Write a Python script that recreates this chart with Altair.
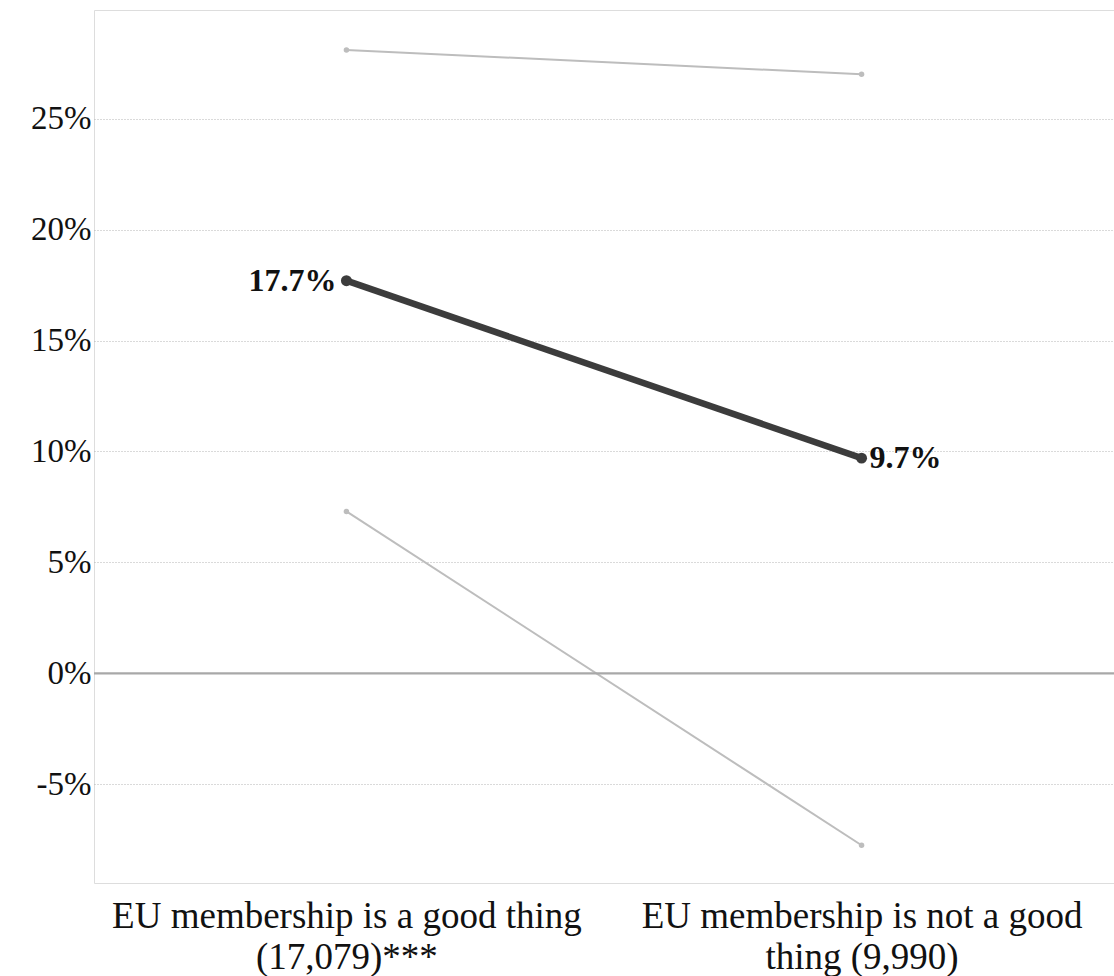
import altair as alt
import pandas as pd

# Categories on the x axis (multi-line labels)
categories = [
    "EU membership is a good thing (17,079)***",
    "EU membership is not a good thing (9,990)",
]
label_lines = {
    categories[0]: ["EU membership is a good thing", "(17,079)***"],
    categories[1]: ["EU membership is not a good", "thing (9,990)"],
}

# Point estimates and confidence bounds (percent)
estimate = [17.7, 9.7]
upper_bound = [28.1, 27.0]
lower_bound = [7.3, -7.75]

est_df = pd.DataFrame({"category": categories, "value": estimate,
                       "label": [f"{v:.1f}%" for v in estimate]})
bounds_df = pd.concat([
    pd.DataFrame({"category": categories, "value": upper_bound, "series": "upper"}),
    pd.DataFrame({"category": categories, "value": lower_bound, "series": "lower"}),
])

serif = "Liberation Serif"

x_enc = alt.X(
    "category:N",
    sort=categories,
    scale=alt.Scale(type="point", padding=0.49),
    axis=alt.Axis(
        title=None, labelAngle=0, ticks=False, domain=False, grid=False,
        labelFont=serif, labelFontSize=37, labelColor="#111111",
        labelPadding=15, labelLineHeight=41, labelLimit=600,
        labelExpr="datum.value == '" + categories[0] + "' ? ['" + "','".join(label_lines[categories[0]]) + "'] : ['" + "','".join(label_lines[categories[1]]) + "']",
    ),
)
y_scale = alt.Scale(domain=[-9.45, 29.9], nice=False, zero=False)
y_enc = alt.Y(
    "value:Q",
    scale=y_scale,
    axis=alt.Axis(
        title=None, values=[-5, 0, 5, 10, 15, 20, 25],
        labelExpr="datum.value + '%'",
        ticks=False, domain=False,
        grid=True, gridColor="#b5b5b5", gridDash=[1, 2], gridWidth=1,
        labelFont=serif, labelFontSize=33, labelColor="#111111", labelPadding=3,
    ),
)

zero_rule = alt.Chart(pd.DataFrame({"value": [0]})).mark_rule(
    color="#a8a8a8", strokeWidth=2.2
).encode(y=alt.Y("value:Q", scale=y_scale))

bound_lines = alt.Chart(bounds_df).mark_line(
    color="#bdbdbd", strokeWidth=2,
    point=alt.OverlayMarkDef(color="#bdbdbd", size=30, filled=True, opacity=1),
).encode(x=x_enc, y=y_enc, detail="series:N")

est_line = alt.Chart(est_df).mark_line(
    color="#3c3c3c", strokeWidth=6.5,
    point=alt.OverlayMarkDef(color="#3c3c3c", size=120, filled=True, opacity=1),
).encode(x=x_enc, y=y_enc)

left_label = alt.Chart(est_df.iloc[[0]]).mark_text(
    align="right", baseline="middle", dx=-10, font=serif, fontSize=32,
    fontWeight="bold", color="#111111",
).encode(x=x_enc, y=y_enc, text="label:N")

right_label = alt.Chart(est_df.iloc[[1]]).mark_text(
    align="left", baseline="middle", dx=8, font=serif, fontSize=32,
    fontWeight="bold", color="#111111",
).encode(x=x_enc, y=y_enc, text="label:N")

chart = alt.layer(
    bound_lines, zero_rule, est_line, left_label, right_label
).properties(
    width=1020, height=873,
    padding={"left": 94, "top": 10, "right": 0, "bottom": 93},
    autosize=alt.AutoSizeParams(type="none"),
).configure_view(
    stroke="#b0b0b0", strokeWidth=2,
).configure(background="white")

chart.save("out.html", embed_options={"renderer": "svg", "actions": False})
